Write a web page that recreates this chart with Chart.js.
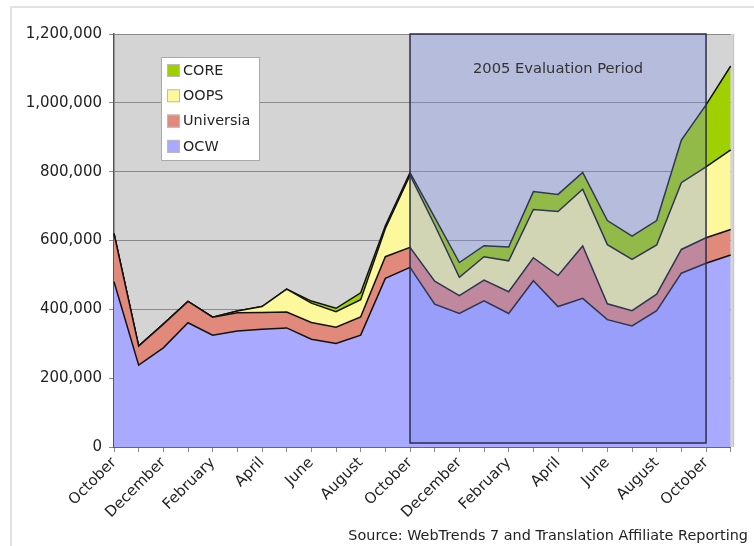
<!DOCTYPE html>
<html>
<head>
<meta charset="utf-8">
<script src="https://cdn.jsdelivr.net/npm/chart.js@4.4.1/dist/chart.umd.min.js"></script>
<style>
  html, body { margin: 0; padding: 0; background: #fff; }
  #wrap { position: relative; width: 754px; height: 546px; }
  #frame { position: absolute; left: 10px; top: 6px; right: 0; bottom: 0; border-top: 2px solid #e2e2e2; border-left: 2px solid #e2e2e2; pointer-events: none; }
  canvas { position: absolute; left: 0; top: 0; }
</style>
</head>
<body>
<div id="wrap">
  <div id="frame"></div>
  <canvas id="chart" width="754" height="546"></canvas>
</div>
<script>
const FONT = "'DejaVu Sans', Verdana, sans-serif";

const months = ["October", "November", "December", "January", "February", "March", "April", "May",
  "June", "July", "August", "September", "October", "November", "December", "January", "February",
  "March", "April", "May", "June", "July", "August", "September", "October", "November"];

const ocw = [480000, 238000, 288000, 361000, 325000, 337000, 342000, 346000, 313000, 301000, 325000, 490000, 522000,
  415000, 388000, 425000, 388000, 483000, 408000, 432000, 370000, 352000, 396000, 505000, 534000, 558000];
const universia = [140000, 55000, 69000, 62000, 52000, 53000, 49000, 46000, 49000, 47000, 53000, 63000, 58000,
  67000, 52000, 60000, 63000, 67000, 90000, 152000, 46000, 44000, 48000, 69000, 74000, 74000];
const oops = [0, 0, 0, 0, 0, 5000, 17000, 67000, 56000, 45000, 50000, 82000, 210000,
  163000, 53000, 68000, 90000, 140000, 186000, 165000, 172000, 149000, 143000, 194000, 206000, 231000];
const core = [0, 0, 0, 0, 0, 0, 0, 0, 6000, 10000, 20000, 8000, 7000,
  22000, 43000, 32000, 40000, 52000, 50000, 49000, 70000, 68000, 71000, 124000, 180000, 244000];

const yTicks = [0, 200000, 400000, 600000, 800000, 1000000, 1200000];
const evalStart = 12;
const evalEnd = 24;
const evalLabel = "2005 Evaluation Period";
const sourceText = "Source: WebTrends 7 and Translation Affiliate Reporting";

function area(label, data, color, fill) {
  return {
    label,
    data,
    backgroundColor: color,
    borderColor: "#111",
    borderWidth: 1.5,
    pointRadius: 0,
    tension: 0,
    fill,
  };
}

// grey plot background, a little wider than the last point like the original
const plotBg = {
  id: "plotBg",
  beforeDraw(chart) {
    const { ctx, chartArea: a } = chart;
    ctx.save();
    ctx.fillStyle = "#d4d4d4";
    ctx.fillRect(a.left, a.top, a.right - a.left + 2.5, a.bottom - a.top);
    ctx.strokeStyle = "#bcbcbc";
    ctx.lineWidth = 1;
    ctx.beginPath();
    ctx.moveTo(a.right + 3, a.top);
    ctx.lineTo(a.right + 3, a.bottom);
    ctx.stroke();
    ctx.restore();
  },
};

const extras = {
  id: "extras",
  afterDatasetsDraw(chart) {
    const { ctx, chartArea: a, scales } = chart;
    const x0 = scales.x.getPixelForValue(evalStart);
    const x1 = scales.x.getPixelForValue(evalEnd);
    const y0 = a.top;
    const y1 = a.bottom - 4;
    ctx.save();
    ctx.fillStyle = "rgba(115,135,235,0.31)";
    ctx.fillRect(x0, y0, x1 - x0, y1 - y0);
    ctx.strokeStyle = "#2a2f4a";
    ctx.lineWidth = 1.5;
    ctx.strokeRect(x0, y0, x1 - x0, y1 - y0);
    ctx.fillStyle = "#333";
    ctx.font = "14.7px " + FONT;
    ctx.textAlign = "center";
    ctx.textBaseline = "middle";
    ctx.fillText(evalLabel, (x0 + x1) / 2, 69);

    // legend box, top series first
    const lx = 161, ly = 57, lw = 98, lh = 103;
    ctx.fillStyle = "#fff";
    ctx.fillRect(lx, ly, lw, lh);
    ctx.strokeStyle = "#aaa";
    ctx.lineWidth = 1;
    ctx.strokeRect(lx + 0.5, ly + 0.5, lw, lh);
    const items = chart.data.datasets.slice().reverse();
    ctx.textAlign = "left";
    ctx.font = "14.4px " + FONT;
    items.forEach((ds, i) => {
      const cy = 71 + i * 25.3;
      ctx.fillStyle = ds.backgroundColor;
      ctx.fillRect(167, cy - 7, 13, 13);
      ctx.strokeStyle = "#bbb";
      ctx.strokeRect(167.5, cy - 6.5, 12, 12);
      ctx.fillStyle = "#222";
      ctx.fillText(ds.label, 183, cy);
    });

    ctx.textAlign = "right";
    ctx.fillStyle = "#222";
    ctx.fillText(sourceText, 748, 536);
    ctx.restore();
  },
};

new Chart(document.getElementById("chart"), {
  type: "line",
  data: {
    labels: months,
    datasets: [
      area("OCW", ocw, "#a9a9ff", "origin"),
      area("Universia", universia, "#e1897a", "-1"),
      area("OOPS", oops, "#fdf89b", "-1"),
      area("CORE", core, "#9fd100", "-1"),
    ],
  },
  options: {
    responsive: false,
    animation: false,
    layout: { padding: { left: 0, top: 34, right: 23.3, bottom: 0 } },
    plugins: {
      legend: { display: false },
      tooltip: { enabled: false },
    },
    scales: {
      x: {
        offset: false,
        grid: { drawOnChartArea: false, drawTicks: true, tickLength: 5, color: "#888" },
        border: { color: "#666", width: 1 },
        ticks: {
          autoSkip: false,
          minRotation: 45,
          maxRotation: 45,
          color: "#222",
          font: { family: FONT, size: 15 },
          padding: 2,
          callback: (v, i) => (i % 2 === 0 ? months[i] : ""),
        },
        afterFit: (s) => { s.height = 99; },
      },
      y: {
        stacked: true,
        min: 0,
        max: 1200000,
        afterBuildTicks: (s) => { s.ticks = yTicks.map((v) => ({ value: v })); },
        grid: { color: "#8a8a8a", tickLength: 5, lineWidth: 1 },
        border: { color: "#555", width: 1.5 },
        ticks: {
          color: "#222",
          font: { family: FONT, size: 15 },
          padding: 7,
          callback: (v) => v.toLocaleString("en-US"),
        },
        afterFit: (s) => { s.width = 114; },
      },
    },
  },
  plugins: [plotBg, extras],
});
</script>
</body>
</html>
